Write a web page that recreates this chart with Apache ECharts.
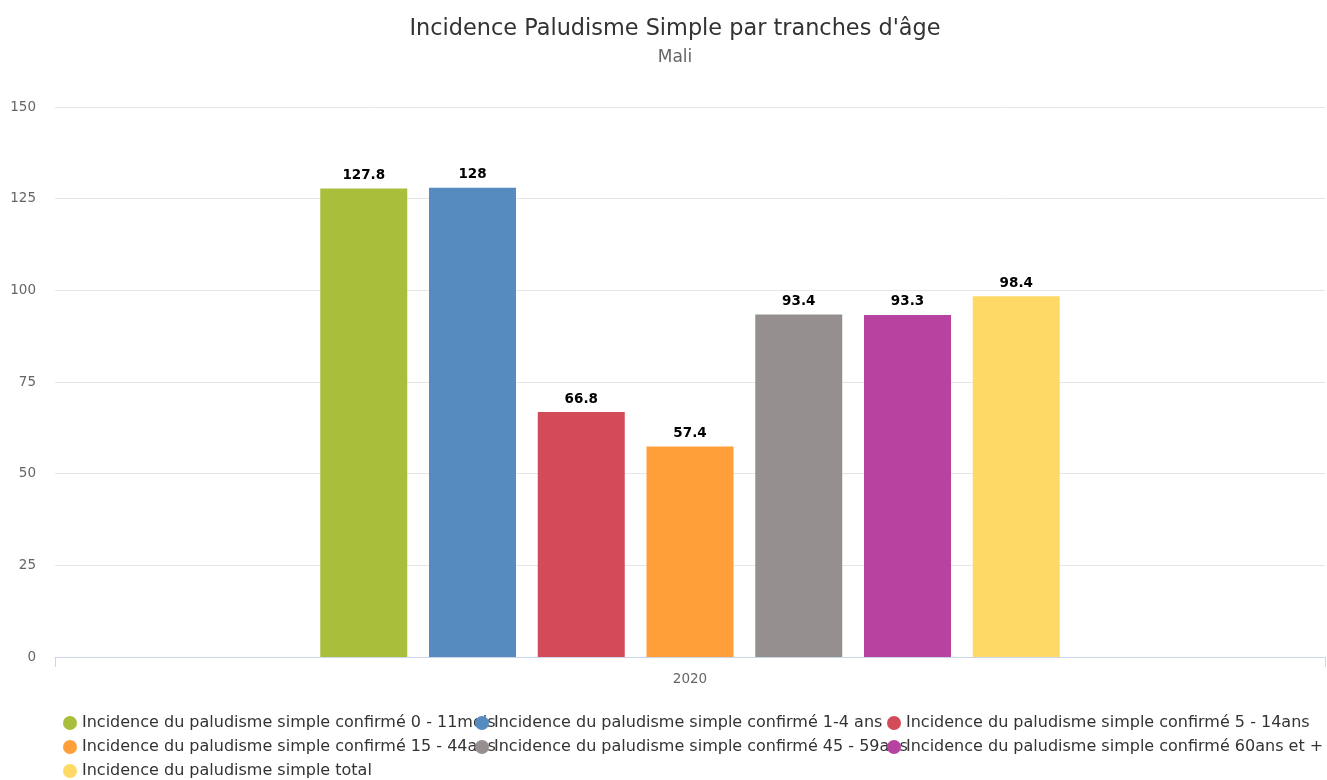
<!DOCTYPE html>
<html>
<head>
<meta charset="utf-8">
<script src="https://cdn.jsdelivr.net/npm/echarts@6/dist/echarts.min.js"></script>
<style>html,body{margin:0;padding:0;background:#fff}#c{width:1327px;height:780px}</style>
</head>
<body>
<div id="c"></div>
<script>
const categories = ['2020'];
const seriesNames = [
  'Incidence du paludisme simple confirmé 0 - 11mois',
  'Incidence du paludisme simple confirmé 1-4 ans',
  'Incidence du paludisme simple confirmé 5 - 14ans',
  'Incidence du paludisme simple confirmé 15 - 44ans',
  'Incidence du paludisme simple confirmé 45 - 59ans',
  'Incidence du paludisme simple confirmé 60ans et +',
  'Incidence du paludisme simple total'
];
const seriesValues = [127.8, 128, 66.8, 57.4, 93.4, 93.3, 98.4];
const seriesColors = ['#a9bf3b', '#558bbf', '#d34b59', '#ff9f3a', '#968f8f', '#b7429f', '#ffd966'];
const yTicks = [0, 25, 50, 75, 100, 125, 150];
// legend columns (as laid out in the reference)
const legendColumns = [
  [seriesNames[0], seriesNames[3], seriesNames[6]],
  [seriesNames[1], seriesNames[4]],
  [seriesNames[2], seriesNames[5]]
];
const legendLefts = [63, 475, 887];

const font = 'DejaVu Sans';
const chart = echarts.init(document.getElementById('c'));
chart.setOption({
  animation: false,
  textStyle: { fontFamily: font },
  title: {
    text: "Incidence Paludisme Simple par tranches d'âge",
    subtext: 'Mali',
    left: 670,
    textAlign: 'center',
    top: 13,
    itemGap: 9,
    textStyle: { fontFamily: font, fontSize: 22.4, fontWeight: 'normal', color: '#333333' },
    subtextStyle: { fontFamily: font, fontSize: 17, color: '#666666' }
  },
  legend: legendColumns.map((col, k) => ({
    left: legendLefts[k],
    top: 715,
    orient: 'vertical',
    icon: 'circle',
    itemWidth: 14,
    itemHeight: 14,
    itemGap: 8,
    padding: 0,
    textStyle: { fontFamily: font, fontSize: 16, color: '#333333', lineHeight: 16 },
    data: col
  })),
  grid: { left: 55, right: 2, top: 107, bottom: 123, containLabel: false },
  xAxis: {
    type: 'category',
    data: categories,
    axisLine: { lineStyle: { color: '#ccd6eb' } },
    axisTick: { show: true, length: 10, lineStyle: { color: '#ccd6eb' } },
    axisLabel: { color: '#666666', fontSize: 13.5, margin: 15, fontFamily: font }
  },
  yAxis: {
    type: 'value',
    min: yTicks[0],
    max: yTicks[yTicks.length - 1],
    interval: 25,
    axisLine: { show: false },
    axisTick: { show: false },
    axisLabel: { color: '#666666', fontSize: 13.5, margin: 19, fontFamily: font },
    splitLine: { lineStyle: { color: '#e6e6e6' } }
  },
  series: seriesNames.map((n, i) => ({
    name: n,
    type: 'bar',
    data: [seriesValues[i]],
    barWidth: 87,
    barGap: '25%',
    itemStyle: { color: seriesColors[i] },
    label: {
      show: true,
      position: 'top',
      distance: 6,
      color: '#000000',
      fontWeight: 'bold',
      fontSize: 13.5,
      fontFamily: font,
      textBorderColor: '#ffffff',
      textBorderWidth: 2
    }
  }))
});
</script>
</body>
</html>
